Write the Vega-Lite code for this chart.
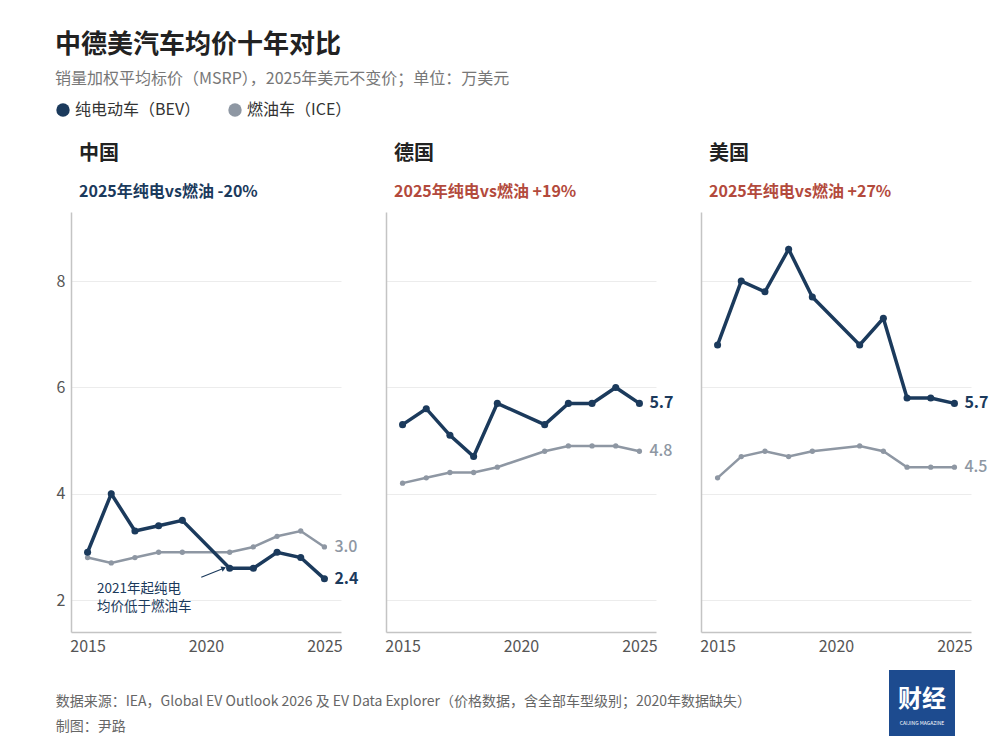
{
  "$schema": "https://vega.github.io/schema/vega-lite/v6.json",
  "background": "white",
  "padding": {"left": 55, "top": 32, "right": 10, "bottom": 10},
  "title": {
    "text": "中德美汽车均价十年对比",
    "subtitle": "销量加权平均标价（MSRP），2025年美元不变价；单位：万美元",
    "fontSize": 26,
    "fontWeight": "bold",
    "color": "#222222",
    "subtitleFontSize": 16,
    "subtitleFontWeight": "normal",
    "subtitleColor": "#777777",
    "subtitlePadding": 13,
    "anchor": "start",
    "frame": "bounds",
    "dx": 0,
    "offset": 15
  },
  "datasets": {
    "prices": [
      {"country": "中国", "year": 2015, "type": "纯电动车（BEV）", "value": 2.9},
      {"country": "中国", "year": 2016, "type": "纯电动车（BEV）", "value": 4.0},
      {"country": "中国", "year": 2017, "type": "纯电动车（BEV）", "value": 3.3},
      {"country": "中国", "year": 2018, "type": "纯电动车（BEV）", "value": 3.4},
      {"country": "中国", "year": 2019, "type": "纯电动车（BEV）", "value": 3.5},
      {"country": "中国", "year": 2021, "type": "纯电动车（BEV）", "value": 2.6},
      {"country": "中国", "year": 2022, "type": "纯电动车（BEV）", "value": 2.6},
      {"country": "中国", "year": 2023, "type": "纯电动车（BEV）", "value": 2.9},
      {"country": "中国", "year": 2024, "type": "纯电动车（BEV）", "value": 2.8},
      {"country": "中国", "year": 2025, "type": "纯电动车（BEV）", "value": 2.4},
      {"country": "中国", "year": 2015, "type": "燃油车（ICE）", "value": 2.8},
      {"country": "中国", "year": 2016, "type": "燃油车（ICE）", "value": 2.7},
      {"country": "中国", "year": 2017, "type": "燃油车（ICE）", "value": 2.8},
      {"country": "中国", "year": 2018, "type": "燃油车（ICE）", "value": 2.9},
      {"country": "中国", "year": 2019, "type": "燃油车（ICE）", "value": 2.9},
      {"country": "中国", "year": 2021, "type": "燃油车（ICE）", "value": 2.9},
      {"country": "中国", "year": 2022, "type": "燃油车（ICE）", "value": 3.0},
      {"country": "中国", "year": 2023, "type": "燃油车（ICE）", "value": 3.2},
      {"country": "中国", "year": 2024, "type": "燃油车（ICE）", "value": 3.3},
      {"country": "中国", "year": 2025, "type": "燃油车（ICE）", "value": 3.0},
      {"country": "德国", "year": 2015, "type": "纯电动车（BEV）", "value": 5.3},
      {"country": "德国", "year": 2016, "type": "纯电动车（BEV）", "value": 5.6},
      {"country": "德国", "year": 2017, "type": "纯电动车（BEV）", "value": 5.1},
      {"country": "德国", "year": 2018, "type": "纯电动车（BEV）", "value": 4.7},
      {"country": "德国", "year": 2019, "type": "纯电动车（BEV）", "value": 5.7},
      {"country": "德国", "year": 2021, "type": "纯电动车（BEV）", "value": 5.3},
      {"country": "德国", "year": 2022, "type": "纯电动车（BEV）", "value": 5.7},
      {"country": "德国", "year": 2023, "type": "纯电动车（BEV）", "value": 5.7},
      {"country": "德国", "year": 2024, "type": "纯电动车（BEV）", "value": 6.0},
      {"country": "德国", "year": 2025, "type": "纯电动车（BEV）", "value": 5.7},
      {"country": "德国", "year": 2015, "type": "燃油车（ICE）", "value": 4.2},
      {"country": "德国", "year": 2016, "type": "燃油车（ICE）", "value": 4.3},
      {"country": "德国", "year": 2017, "type": "燃油车（ICE）", "value": 4.4},
      {"country": "德国", "year": 2018, "type": "燃油车（ICE）", "value": 4.4},
      {"country": "德国", "year": 2019, "type": "燃油车（ICE）", "value": 4.5},
      {"country": "德国", "year": 2021, "type": "燃油车（ICE）", "value": 4.8},
      {"country": "德国", "year": 2022, "type": "燃油车（ICE）", "value": 4.9},
      {"country": "德国", "year": 2023, "type": "燃油车（ICE）", "value": 4.9},
      {"country": "德国", "year": 2024, "type": "燃油车（ICE）", "value": 4.9},
      {"country": "德国", "year": 2025, "type": "燃油车（ICE）", "value": 4.8},
      {"country": "美国", "year": 2015, "type": "纯电动车（BEV）", "value": 6.8},
      {"country": "美国", "year": 2016, "type": "纯电动车（BEV）", "value": 8.0},
      {"country": "美国", "year": 2017, "type": "纯电动车（BEV）", "value": 7.8},
      {"country": "美国", "year": 2018, "type": "纯电动车（BEV）", "value": 8.6},
      {"country": "美国", "year": 2019, "type": "纯电动车（BEV）", "value": 7.7},
      {"country": "美国", "year": 2021, "type": "纯电动车（BEV）", "value": 6.8},
      {"country": "美国", "year": 2022, "type": "纯电动车（BEV）", "value": 7.3},
      {"country": "美国", "year": 2023, "type": "纯电动车（BEV）", "value": 5.8},
      {"country": "美国", "year": 2024, "type": "纯电动车（BEV）", "value": 5.8},
      {"country": "美国", "year": 2025, "type": "纯电动车（BEV）", "value": 5.7},
      {"country": "美国", "year": 2015, "type": "燃油车（ICE）", "value": 4.3},
      {"country": "美国", "year": 2016, "type": "燃油车（ICE）", "value": 4.7},
      {"country": "美国", "year": 2017, "type": "燃油车（ICE）", "value": 4.8},
      {"country": "美国", "year": 2018, "type": "燃油车（ICE）", "value": 4.7},
      {"country": "美国", "year": 2019, "type": "燃油车（ICE）", "value": 4.8},
      {"country": "美国", "year": 2021, "type": "燃油车（ICE）", "value": 4.9},
      {"country": "美国", "year": 2022, "type": "燃油车（ICE）", "value": 4.8},
      {"country": "美国", "year": 2023, "type": "燃油车（ICE）", "value": 4.5},
      {"country": "美国", "year": 2024, "type": "燃油车（ICE）", "value": 4.5},
      {"country": "美国", "year": 2025, "type": "燃油车（ICE）", "value": 4.5}
    ],
    "note": [
      {"x": 2015.4, "y": 2.2, "label": "2021年起纯电"},
      {"x": 2015.4, "y": 1.87, "label": "均价低于燃油车"}
    ],
    "arrow": [
      {"x": 2019.8, "y": 2.43, "x2": 2020.75, "y2": 2.6}
    ],
    "footer": [
      {"row": 0, "col": 0, "label": "数据来源：IEA，Global EV Outlook 2026 及 EV Data Explorer（价格数据，含全部车型级别；2020年数据缺失）"},
      {"row": 1, "col": 0, "label": "制图：尹路"}
    ],
    "logo": [
      {"x": 0.5, "y": 0.45, "label": "财经"}
    ],
    "logosub": [
      {"x": 0.5, "y": 0.8, "label": "CAIJING MAGAZINE"}
    ]
  },
  "vconcat": [
    {
      "hconcat": [
        {
          "width": 270,
          "height": 420,
          "title": {"text": "中国", "subtitle": "2025年纯电vs燃油 -20%", "subtitleColor": "#1b3a5c"},
          "data": {"name": "prices"},
          "transform": [{"filter": "datum.country === '中国'"}],
          "encoding": {
            "x": {"field": "year", "type": "quantitative", "scale": {"domain": [2014.3, 2025.7], "nice": false, "zero": false}, "axis": {"values": [2015, 2020, 2025], "format": "d", "grid": false}},
            "y": {"field": "value", "type": "quantitative", "scale": {"domain": [1.4, 9.3], "nice": false, "zero": false}, "axis": {"values": [2, 4, 6, 8], "labels": true}},
            "color": {"field": "type", "type": "nominal", "scale": {"domain": ["纯电动车（BEV）", "燃油车（ICE）"], "range": ["#1b3a5c", "#8e97a3"]}}
          },
          "layer": [
            {"transform": [{"filter": "datum.type === '燃油车（ICE）'"}], "mark": {"type": "line", "strokeWidth": 2.5}},
            {"transform": [{"filter": "datum.type === '燃油车（ICE）'"}], "mark": {"type": "point", "filled": true, "opacity": 1, "size": 28}},
            {"transform": [{"filter": "datum.type === '纯电动车（BEV）'"}], "mark": {"type": "line", "strokeWidth": 3.5}},
            {"transform": [{"filter": "datum.type === '纯电动车（BEV）'"}], "mark": {"type": "point", "filled": true, "opacity": 1, "size": 50}},
            {"transform": [{"filter": "datum.year === 2025 && datum.type === '纯电动车（BEV）'"}], "mark": {"type": "text", "align": "left", "dx": 10, "fontSize": 16, "fontWeight": "bold"}, "encoding": {"text": {"field": "value", "format": ".1f"}, "color": {"value": "#1b3a5c"}}},
            {"transform": [{"filter": "datum.year === 2025 && datum.type === '燃油车（ICE）'"}], "mark": {"type": "text", "align": "left", "dx": 10, "fontSize": 16, "fontWeight": 500}, "encoding": {"text": {"field": "value", "format": ".1f"}, "color": {"value": "#8e97a3"}}},
            {"data": {"name": "note"}, "mark": {"type": "text", "align": "left", "fontSize": 13.5}, "encoding": {"x": {"field": "x", "type": "quantitative"}, "y": {"field": "y", "type": "quantitative"}, "text": {"field": "label"}, "color": {"value": "#1b3a5c"}}},
            {"data": {"name": "arrow"}, "mark": {"type": "rule", "strokeWidth": 1.2}, "encoding": {"x": {"field": "x", "type": "quantitative"}, "y": {"field": "y", "type": "quantitative"}, "x2": {"field": "x2"}, "y2": {"field": "y2"}, "color": {"value": "#1b3a5c"}}},
            {"data": {"name": "arrow"}, "mark": {"type": "point", "shape": "triangle-up", "filled": true, "size": 30, "angle": 68, "opacity": 1}, "encoding": {"x": {"field": "x2", "type": "quantitative"}, "y": {"field": "y2", "type": "quantitative"}, "color": {"value": "#1b3a5c"}}}
          ]
        },
        {
          "width": 270,
          "height": 420,
          "title": {"text": "德国", "subtitle": "2025年纯电vs燃油 +19%", "subtitleColor": "#b34a3c"},
          "data": {"name": "prices"},
          "transform": [{"filter": "datum.country === '德国'"}],
          "encoding": {
            "x": {"field": "year", "type": "quantitative", "scale": {"domain": [2014.3, 2025.7], "nice": false, "zero": false}, "axis": {"values": [2015, 2020, 2025], "format": "d", "grid": false}},
            "y": {"field": "value", "type": "quantitative", "scale": {"domain": [1.4, 9.3], "nice": false, "zero": false}, "axis": {"values": [2, 4, 6, 8], "labels": false}},
            "color": {"field": "type", "type": "nominal"}
          },
          "layer": [
            {"transform": [{"filter": "datum.type === '燃油车（ICE）'"}], "mark": {"type": "line", "strokeWidth": 2.5}},
            {"transform": [{"filter": "datum.type === '燃油车（ICE）'"}], "mark": {"type": "point", "filled": true, "opacity": 1, "size": 28}},
            {"transform": [{"filter": "datum.type === '纯电动车（BEV）'"}], "mark": {"type": "line", "strokeWidth": 3.5}},
            {"transform": [{"filter": "datum.type === '纯电动车（BEV）'"}], "mark": {"type": "point", "filled": true, "opacity": 1, "size": 50}},
            {"transform": [{"filter": "datum.year === 2025 && datum.type === '纯电动车（BEV）'"}], "mark": {"type": "text", "align": "left", "dx": 10, "fontSize": 16, "fontWeight": "bold"}, "encoding": {"text": {"field": "value", "format": ".1f"}, "color": {"value": "#1b3a5c"}}},
            {"transform": [{"filter": "datum.year === 2025 && datum.type === '燃油车（ICE）'"}], "mark": {"type": "text", "align": "left", "dx": 10, "fontSize": 16, "fontWeight": 500}, "encoding": {"text": {"field": "value", "format": ".1f"}, "color": {"value": "#8e97a3"}}}
          ]
        },
        {
          "width": 270,
          "height": 420,
          "title": {"text": "美国", "subtitle": "2025年纯电vs燃油 +27%", "subtitleColor": "#b34a3c"},
          "data": {"name": "prices"},
          "transform": [{"filter": "datum.country === '美国'"}],
          "encoding": {
            "x": {"field": "year", "type": "quantitative", "scale": {"domain": [2014.3, 2025.7], "nice": false, "zero": false}, "axis": {"values": [2015, 2020, 2025], "format": "d", "grid": false}},
            "y": {"field": "value", "type": "quantitative", "scale": {"domain": [1.4, 9.3], "nice": false, "zero": false}, "axis": {"values": [2, 4, 6, 8], "labels": false}},
            "color": {"field": "type", "type": "nominal"}
          },
          "layer": [
            {"transform": [{"filter": "datum.type === '燃油车（ICE）'"}], "mark": {"type": "line", "strokeWidth": 2.5}},
            {"transform": [{"filter": "datum.type === '燃油车（ICE）'"}], "mark": {"type": "point", "filled": true, "opacity": 1, "size": 28}},
            {"transform": [{"filter": "datum.type === '纯电动车（BEV）'"}], "mark": {"type": "line", "strokeWidth": 3.5}},
            {"transform": [{"filter": "datum.type === '纯电动车（BEV）'"}], "mark": {"type": "point", "filled": true, "opacity": 1, "size": 50}},
            {"transform": [{"filter": "datum.year === 2025 && datum.type === '纯电动车（BEV）'"}], "mark": {"type": "text", "align": "left", "dx": 10, "fontSize": 16, "fontWeight": "bold"}, "encoding": {"text": {"field": "value", "format": ".1f"}, "color": {"value": "#1b3a5c"}}},
            {"transform": [{"filter": "datum.year === 2025 && datum.type === '燃油车（ICE）'"}], "mark": {"type": "text", "align": "left", "dx": 10, "fontSize": 16, "fontWeight": 500}, "encoding": {"text": {"field": "value", "format": ".1f"}, "color": {"value": "#8e97a3"}}}
          ]
        }
      ],
      "spacing": 25
    },
    {
      "hconcat": [
        {
          "width": 760,
          "height": 66,
          "data": {"name": "footer"},
          "mark": {"type": "text", "align": "left", "fontSize": 14, "color": "#666666"},
          "encoding": {
            "x": {"field": "col", "type": "quantitative", "scale": {"domain": [0.0197, 1]}, "axis": null},
            "y": {"field": "row", "type": "quantitative", "scale": {"domain": [-1.28, 1.36], "reverse": true, "nice": false, "zero": false}, "axis": null},
            "text": {"field": "label"}
          }
        },
        {
          "width": 66,
          "height": 66,
          "view": {"fill": "#1d4b8f"},
          "encoding": {
            "x": {"field": "x", "type": "quantitative", "scale": {"domain": [0, 1]}, "axis": null},
            "y": {"field": "y", "type": "quantitative", "scale": {"domain": [1, 0]}, "axis": null},
            "text": {"field": "label"}
          },
          "layer": [
            {"data": {"name": "logo"}, "mark": {"type": "text", "color": "white", "fontWeight": "bold", "fontSize": 24}},
            {"data": {"name": "logosub"}, "mark": {"type": "text", "color": "white", "fontSize": 5}}
          ]
        }
      ],
      "spacing": 58
    }
  ],
  "spacing": 16,
  "resolve": {"scale": {"color": "shared"}},
  "config": {
    "font": "Noto Sans CJK SC",
    "view": {"stroke": null},
    "axis": {"ticks": false, "domainColor": "#c4c4c4", "domainWidth": 1.5, "gridColor": "#ececec", "labelColor": "#555555", "labelFontSize": 16, "labelFont": "Noto Sans CJK SC", "title": null, "labelPadding": 6},
    "title": {"anchor": "start", "frame": "group", "fontSize": 20, "fontWeight": "bold", "color": "#222222", "subtitleFontSize": 16, "subtitleFontWeight": "bold", "subtitlePadding": 20, "offset": 12, "dx": 8},
    "legend": {"orient": "none", "legendX": -16, "legendY": -110, "direction": "horizontal", "title": null, "labelFontSize": 16, "labelColor": "#333333", "symbolType": "circle", "symbolSize": 180, "symbolStrokeWidth": 0, "columnPadding": 26, "labelOffset": 4}
  }
}
